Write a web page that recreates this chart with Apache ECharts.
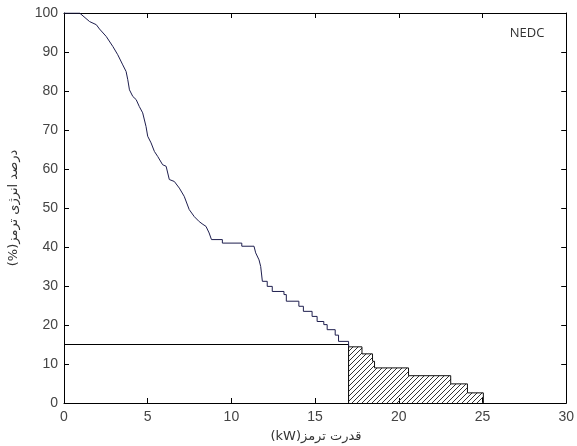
<!DOCTYPE html>
<html>
<head>
<meta charset="utf-8">
<script src="https://cdn.jsdelivr.net/npm/echarts@6/dist/echarts.min.js"></script>
<style>
html,body{margin:0;padding:0;background:#fff;}
#chart{width:577px;height:446px;}
</style>
</head>
<body>
<div id="chart"></div>
<script>
// ---- data ----
const xTicks = [0, 5, 10, 15, 20, 25, 30];
const yTicks = [0, 10, 20, 30, 40, 50, 60, 70, 80, 90, 100];
const xTitle = 'قدرت ترمز(kW)';
const yTitle = 'درصد انرژی ترمز(%)';
const cycleLabel = 'NEDC';

// cumulative braking energy curve (power kW, energy %)
const curvePoints = [
  [0,100],[0.93,100],[1.53,97.8],[1.93,97],[2.12,95.9],[2.52,94],[2.92,91.4],[3.21,89.3],
  [3.51,86.7],[3.71,85],[3.81,82.9],[3.91,80.3],[4.11,78.6],[4.31,77.8],[4.5,76],[4.7,74.4],
  [4.9,70.9],[5.0,68.4],[5.2,66.7],[5.4,64.5],[5.6,63.2],[5.89,61.1],[6.1,60.7],[6.29,57.3],
  [6.59,56.8],[6.89,55.1],[7.18,53],[7.48,49.6],[7.78,47.8],[8.08,46.5],[8.3,45.8],[8.48,45.3],
  [8.67,43.6],[8.81,41.9],[9.46,41.9],[9.46,41.0],[10.62,41.0],[10.62,40.2],[11.35,40.2],
  [11.45,38.5],[11.65,36.7],[11.75,35],[11.85,31.2],[12.14,31.2],[12.14,29.9],[12.44,29.9],
  [12.44,28.6],[13.14,28.6],[13.14,27.8],[13.28,27.8],[13.28,26.1],[14.03,26.1],[14.03,24.8],
  [14.3,24.8],[14.3,23.5],[14.82,23.5],[14.82,22.2],[15.12,22.2],[15.12,20.9],[15.52,20.9],
  [15.52,20.1],[15.72,20.1],[15.72,18.8],[16.2,18.8],[16.2,17.4],[16.4,17.4],[16.4,15.8],
  [17.0,15.8],[17.0,14.4]
];
// hatched region above the 17 kW threshold
const hatchPoints = [
  [17.0,14.4],[17.8,14.4],[17.8,12.6],[18.43,12.6],[18.43,10.7],[18.55,10.7],[18.55,9.0],
  [20.58,9.0],[20.58,7.0],[23.1,7.0],[23.1,4.9],[24.1,4.9],[24.1,2.6],[25.05,2.6],[25.05,0]
];
// 15% / 17 kW threshold lines
const thresholdPoints = [[0,15],[17,15],[17,0]];

// ---- hatch pattern ----
const pc = document.createElement('canvas');
pc.width = 5; pc.height = 5;
const pctx = pc.getContext('2d');
pctx.strokeStyle = '#333';
pctx.lineWidth = 1;
pctx.beginPath();
pctx.moveTo(0,5); pctx.lineTo(5,0);
pctx.moveTo(-1,1); pctx.lineTo(1,-1);
pctx.moveTo(4,6); pctx.lineTo(6,4);
pctx.stroke();

const chart = echarts.init(document.getElementById('chart'), null, {renderer:'canvas'});
const axisLineStyle = {show:true, onZero:false, lineStyle:{color:'#000', width:1}};
const tickStyle = {show:true, inside:true, length:5, lineStyle:{color:'#000', width:1}};
const labelStyle = {color:'#444', fontSize:14, fontFamily:'Liberation Sans, Arial, sans-serif'};

const rtl = s => '\u202B' + s + '\u202C';

chart.setOption({
  animation:false,
  backgroundColor:'#fff',
  grid:{left:64, right:8, top:13, bottom:43, containLabel:false},
  xAxis:[
    {type:'value', min:xTicks[0], max:xTicks[xTicks.length-1], interval:5, position:'bottom',
     axisLine:axisLineStyle, axisTick:tickStyle, splitLine:{show:false},
     axisLabel:Object.assign({margin:7}, labelStyle)},
    {type:'value', min:xTicks[0], max:xTicks[xTicks.length-1], interval:5, position:'top',
     axisLine:axisLineStyle, axisTick:tickStyle, splitLine:{show:false}, axisLabel:{show:false}}
  ],
  yAxis:[
    {type:'value', min:yTicks[0], max:yTicks[yTicks.length-1], interval:10, position:'left',
     axisLine:axisLineStyle, axisTick:tickStyle, splitLine:{show:false},
     axisLabel:Object.assign({margin:6}, labelStyle)},
    {type:'value', min:yTicks[0], max:yTicks[yTicks.length-1], interval:10, position:'right',
     axisLine:axisLineStyle, axisTick:tickStyle, splitLine:{show:false}, axisLabel:{show:false}}
  ],
  series:[
    {type:'line', data:hatchPoints, symbol:'none', silent:true,
     lineStyle:{color:'#111', width:1},
     areaStyle:{color:{image:pc, repeat:'repeat'}, opacity:1}},
    {type:'line', data:thresholdPoints, symbol:'none', silent:true,
     lineStyle:{color:'#000', width:1}},
    {type:'line', data:curvePoints, symbol:'none', silent:true,
     lineStyle:{color:'#1e1e4e', width:1}}
  ],
  graphic:[
    {type:'text', x:527, y:33, style:{text:cycleLabel, fill:'#333', font:'13px "Open Sans", sans-serif', textAlign:'center', textVerticalAlign:'middle'}},
    {type:'text', x:316, y:437, style:{text:rtl(xTitle), fill:'#333', font:'13px "DejaVu Sans", sans-serif', textAlign:'center', textVerticalAlign:'middle'}},
    {type:'text', x:14, y:208, rotation:Math.PI/2, style:{text:rtl(yTitle), fill:'#333', font:'13px "DejaVu Sans", sans-serif', textAlign:'center', textVerticalAlign:'middle'}}
  ]
});
</script>
</body>
</html>
